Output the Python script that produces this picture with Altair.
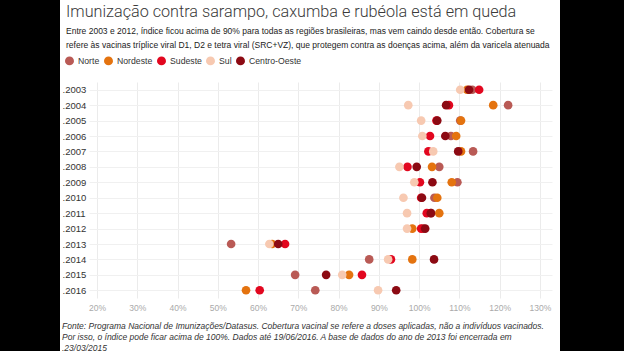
import altair as alt
import pandas as pd

TITLE = "Imunização contra sarampo, caxumba e rubéola está em queda"
SUBTITLE = [
    "Entre 2003 e 2012, índice ficou acima de 90% para todas as regiões brasileiras, mas vem caindo desde então. Cobertura se",
    "refere às vacinas tríplice viral D1, D2 e tetra viral (SRC+VZ), que protegem contra as doenças acima, além da varicela atenuada",
]
FOOTER = [
    "Fonte: Programa Nacional de Imunizações/Datasus. Cobertura vacinal se refere a doses aplicadas, não a indivíduos vacinados.",
    "Por isso, o índice pode ficar acima de 100%. Dados até 19/06/2016. A base de dados do ano de 2013 foi encerrada em",
    ".23/03/2015",
]

years = ["2003", "2004", "2005", "2006", "2007", "2008", "2009", "2010",
         "2011", "2012", "2013", "2014", "2015", "2016"]
regions = ["Norte", "Nordeste", "Sudeste", "Sul", "Centro-Oeste"]
colors = ["#b95a55", "#e4730f", "#e2071f", "#f7c9b1", "#8c0a13"]

norte =    [113.2, 122.1, 110.2, 107.9, 113.4, 105.0, 109.5, 103.8, 103.0, 101.0, 53.3, 87.6, 69.2, 74.2]
nordeste = [111.9, 118.4, 110.4, 109.2, 110.4, 103.2, 108.1, 104.5, 105.0, 98.3, 63.5, 98.3, 82.6, 57.0]
sudeste =  [114.9, 107.4, 104.3, 102.7, 102.3, 97.1, 100.2, 100.5, 101.9, 100.5, 66.7, 93.0, 85.8, 60.4]
sul =      [110.2, 97.3, 100.5, 100.8, 103.5, 95.1, 98.8, 96.1, 97.0, 97.0, 62.8, 92.3, 80.9, 89.8]
centro =   [112.4, 106.7, 104.5, 106.5, 109.7, 99.4, 103.3, 100.7, 102.9, 101.5, 65.0, 103.7, 76.9, 94.3]

xticks = [20, 30, 40, 50, 60, 70, 80, 90, 100, 110, 120, 130]

series = [norte, nordeste, sudeste, sul, centro]
rows = []
for reg, vals in zip(regions, series):
    for y, v in zip(years, vals):
        rows.append({"Região": reg, "Ano": y, "Cobertura": v})
df = pd.DataFrame(rows)

W, H = 463, 216
PL, PT = 89, 82

points = alt.Chart(df).mark_circle(size=75, opacity=1).encode(
    x=alt.X("Cobertura:Q",
            scale=alt.Scale(domain=[18, 133], nice=False, zero=False),
            axis=alt.Axis(values=xticks, labelExpr="datum.value + '%'", title=None,
                          domain=False, ticks=False, tickSize=0, labelPadding=5,
                          labelColor="#aaaaaa", labelFontSize=8.5, labelFont="Liberation Sans",
                          grid=True, gridColor="#ebebeb")),
    y=alt.Y("Ano:O", sort=years,
            scale=alt.Scale(type="point", padding=0.5),
            axis=alt.Axis(title=None, domain=False, ticks=False, tickSize=0,
                          labelAlign="left", labelPadding=PL - 62, labelExpr="'.' + datum.label",
                          labelColor="#333333", labelFontSize=9.5, labelFont="Liberation Sans",
                          grid=True, gridColor="#f0f0f0")),
    color=alt.Color("Região:N",
                    scale=alt.Scale(domain=regions, range=colors),
                    legend=alt.Legend(orient="none", direction="horizontal", title=None,
                                      legendX=-24, legendY=-26, symbolType="circle",
                                      symbolSize=80, symbolStrokeWidth=0, symbolOpacity=1,
                                      labelFontSize=8.7, labelFont="Liberation Sans",
                                      labelColor="#333333", labelOffset=4, columnPadding=4,
                                      padding=0)),
)

layers = [points]

title_layer = alt.Chart(pd.DataFrame({"t": [TITLE]})).mark_text(
    align="left", baseline="middle", font="Roboto", fontWeight=300, fontSize=16.2, color="#3a3a3a"
).encode(x=alt.value(66 - PL), y=alt.value(12 - PT), text="t:N")
layers.append(title_layer)

for i, line in enumerate(SUBTITLE):
    layers.append(alt.Chart(pd.DataFrame({"t": [line]})).mark_text(
        align="left", baseline="middle", font="Liberation Sans", fontSize=8.5, color="#222222"
    ).encode(x=alt.value(66 - PL), y=alt.value(31 - PT + 14 * i), text="t:N"))

for i, line in enumerate(FOOTER):
    layers.append(alt.Chart(pd.DataFrame({"t": [line]})).mark_text(
        align="left", baseline="middle", font="Liberation Sans", fontSize=8.5,
        fontStyle="italic", color="#333333"
    ).encode(x=alt.value(62 - PL), y=alt.value(325.5 - PT + 11 * i), text="t:N"))

one = pd.DataFrame({"k": [0]})
left_bar = alt.Chart(one).mark_rect(color="black").encode(
    x=alt.value(0 - PL), x2=alt.value(60 - PL), y=alt.value(-PT), y2=alt.value(351 - PT))
right_bar = alt.Chart(one).mark_rect(color="black").encode(
    x=alt.value(560 - PL), x2=alt.value(624 - PL), y=alt.value(-PT), y2=alt.value(351 - PT))
layers += [left_bar, right_bar]

chart = alt.layer(*layers).properties(
    width=W, height=H,
    autosize=alt.AutoSizeParams(type="none"),
    padding={"left": PL, "top": PT, "right": 624 - PL - W, "bottom": 351 - PT - H},
    background="white",
).configure_view(stroke=None)

chart.save("out.html", embed_options={"renderer": "svg", "actions": False})
